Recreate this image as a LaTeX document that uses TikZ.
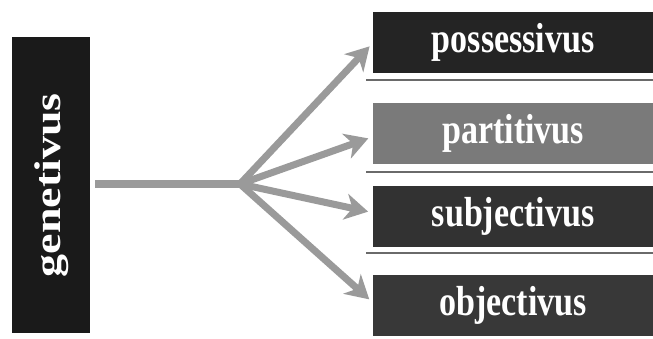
\documentclass[tikz,border=0pt]{standalone}
\usepackage{fontspec}
\setmainfont{Liberation Serif}
\usetikzlibrary{arrows.meta}
\definecolor{boxdark}{HTML}{242424}
\definecolor{boxmid}{HTML}{7A7A7A}
\definecolor{boxsub}{HTML}{323232}
\definecolor{boxobj}{HTML}{383838}
\definecolor{boxgen}{HTML}{1A1A1A}
\definecolor{linkgray}{HTML}{9A9A9A}
\definecolor{rulegray}{HTML}{6A6A6A}
\newcommand{\narrowtext}[1]{\scalebox{0.81}[1]{#1}}
\begin{document}
\begin{tikzpicture}[x=1pt,y=-1pt,
  casebox/.style={anchor=north west, inner sep=0pt, minimum width=280pt,
    minimum height=61pt, text=white, font=\fontsize{42}{48}\selectfont\bfseries,
    text height=29pt, text depth=9pt},
  link/.style={draw=linkgray, line width=7pt, shorten >=5pt,
    -{Stealth[length=23pt,width=26pt,inset=7pt]}},
  divider/.style={draw=rulegray, line width=2pt}]
  \useasboundingbox (0,0) rectangle (653,339);
  \fill[white] (0,0) rectangle (653,339);

  % root case, set vertically
  \node[anchor=north west, inner sep=0pt, minimum width=78pt, minimum height=296pt,
    fill=boxgen, text=white, font=\fontsize{46}{50}\selectfont\bfseries]
    (gen) at (12,37) {\narrowtext{\rotatebox{90}{genetivus}}};

  % sub-types of the genitive
  \node[casebox, fill=boxdark] (pos) at (373,12) {\narrowtext{possessivus}};
  \node[casebox, fill=boxmid]  (par) at (373,103) {\narrowtext{partitivus}};
  \node[casebox, fill=boxsub]  (sub) at (373,186) {\narrowtext{subjectivus}};
  \node[casebox, fill=boxobj]  (obj) at (373,275) {\narrowtext{objectivus}};

  % dividing rules between the boxes
  \coordinate (r1a) at (366,80);  \coordinate (r1b) at (653,80);
  \coordinate (r2a) at (366,172); \coordinate (r2b) at (653,172);
  \coordinate (r3a) at (366,253); \coordinate (r3b) at (653,253);
  \draw[divider] (r1a) -- (r1b);
  \draw[divider] (r2a) -- (r2b);
  \draw[divider] (r3a) -- (r3b);

  % stem and branching arrows
  \coordinate (stem) at (95,184);
  \coordinate (fork) at (240,184);
  \draw[draw=linkgray, line width=8pt] (stem) -- (fork);
  \draw[link] (fork) -- ([yshift=0pt]pos.west);
  \draw[link] (fork) -- ([yshift=-3pt]par.west);
  \draw[link] (fork) -- ([yshift=4pt]sub.west);
  \draw[link] (fork) -- ([yshift=3pt]obj.west);
\end{tikzpicture}
\end{document}
